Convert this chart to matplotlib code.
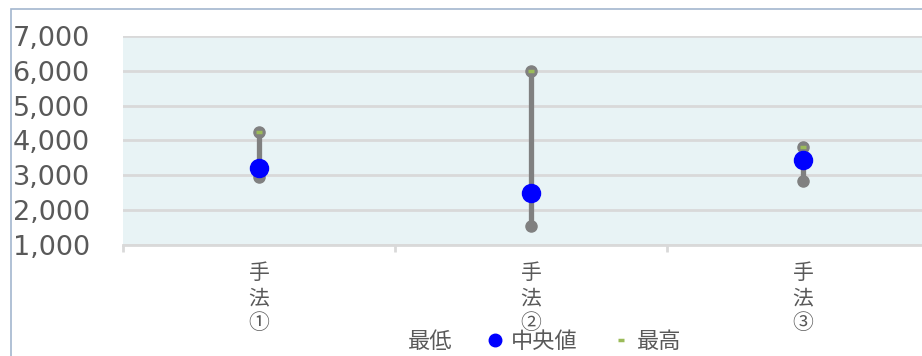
import matplotlib.pyplot as plt
from matplotlib.lines import Line2D
from matplotlib.ticker import FuncFormatter
from matplotlib.patches import Rectangle

plt.rcParams['font.family'] = ['Noto Sans CJK JP', 'DejaVu Sans']

categories = ["手\n法\n①", "手\n法\n②", "手\n法\n③"]
low = [2950, 1550, 2850]
median = [3200, 2500, 3450]
high = [4250, 6000, 3800]

text_color = "#595959"
grid_color = "#D9D9D9"

fig = plt.figure(figsize=(9.22, 3.56), dpi=100)

# outer chart frame (only left and top edges fall inside the image)
fig.patches.append(Rectangle((10.5 / 922, -0.1), 1.2, 1 - 8.5 / 356 + 0.1,
                             transform=fig.transFigure, fill=False,
                             edgecolor="#A3B6CE", linewidth=1.2))

ax = fig.add_axes([123 / 922, 1 - 245 / 356, 816 / 922, 209 / 356])
ax.set_facecolor("#E8F3F5")

x = range(len(categories))

# high-low line for each method
ax.vlines(x, low, high, color="#808080", linewidth=3.8, zorder=3)
ax.plot(x, low, "o", color="#808080", markersize=8, zorder=4)
ax.plot(x, high, "o", color="#808080", markersize=8, zorder=4)
ax.plot(x, high, "_", color="#9BBB59", markersize=5, markeredgewidth=2.5, zorder=5)
ax.plot(x, median, "o", color="#0000FF", markersize=13, zorder=6)

ax.set_xlim(-0.5, 2.5)
ax.set_ylim(1000, 7000)
ax.set_yticks(range(1000, 7001, 1000))
ax.yaxis.set_major_formatter(FuncFormatter(lambda v, p: f"{int(v):,}"))
ax.grid(axis="y", color=grid_color, linewidth=2)
ax.set_axisbelow(True)

for s in ["top", "right", "left"]:
    ax.spines[s].set_visible(False)
ax.spines["bottom"].set_color(grid_color)
ax.spines["bottom"].set_linewidth(2)

ax.tick_params(axis="y", length=0, pad=24, labelsize=19.5, labelcolor=text_color)
for lbl in ax.get_yticklabels():
    lbl.set_family("DejaVu Sans")

ax.set_xticks(list(x))
ax.set_xticklabels(categories, fontsize=15, color=text_color, linespacing=1.2)
ax.tick_params(axis="x", which="major", length=0, pad=12)
ax.set_xticks([-0.5, 0.5, 1.5, 2.5], minor=True)
ax.tick_params(axis="x", which="minor", length=5, width=2, color=grid_color)

handles = [
    Line2D([], [], linestyle="none"),
    Line2D([], [], linestyle="none", marker="o", color="#0000FF", markersize=9),
    Line2D([], [], linestyle="none", marker="_", color="#9BBB59", markersize=5,
           markeredgewidth=2.5),
]
fig.legend(handles, ["最低", "中央値", "最高"], ncol=3, loc="center",
           bbox_to_anchor=(532 / 922, 1 - 341 / 356), frameon=False,
           fontsize=16, labelcolor=text_color, handlelength=0.8,
           handletextpad=0.3, columnspacing=1.55, borderpad=0)

fig.savefig("out.png", dpi=100)
